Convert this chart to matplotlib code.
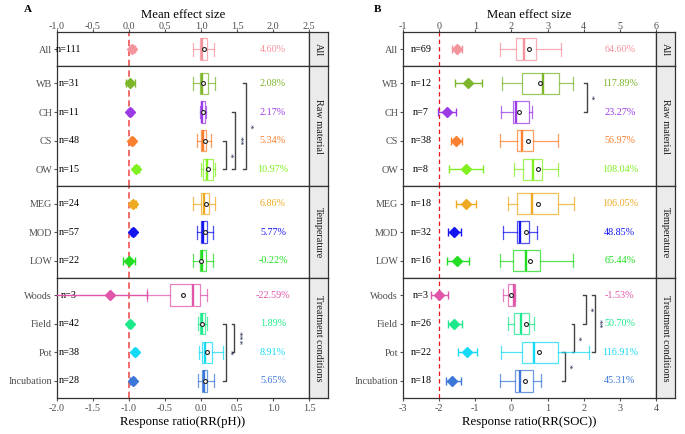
import numpy as np
import matplotlib.pyplot as plt

plt.rcParams['font.family'] = ['Liberation Serif', 'DejaVu Serif']

# ---- data ----
categories = ["All", "WB", "CH", "CS", "OW", "MEG", "MOD", "LOW",
              "Woods", "Field", "Pot", "Incubation"]
facet_of = [0, 1, 1, 1, 1, 2, 2, 2, 3, 3, 3, 3]
facets = ["All", "Raw material", "Temperature", "Treatment conditions"]
colors = ["#F5939C", "#7DB52B", "#9A3BE6", "#FA7F2E", "#80F020", "#EEAA22",
          "#1414F0", "#22DD22", "#E055AA", "#1DE98B", "#14DAF5", "#3D78D8"]

# panel A: RR(pH)
ph_n = [111, 31, 11, 48, 15, 24, 57, 22, 3, 42, 38, 28]
ph_pct = ["4.60%", "2.08%", "2.17%", "5.34%", "10.97%", "6.86%", "5.77%",
          "-0.22%", "-22.59%", "1.89%", "8.91%", "5.65%"]
ph_q1 = [-0.014, -0.014, 0.0, 0.0, 0.024, 0.0, 0.0, -0.014, -0.431, -0.014, 0.018, 0.018]
ph_med = [0.01, 0.014, 0.02, 0.03, 0.09, 0.045, 0.032, 0.018, -0.115, 0.009, 0.056, 0.042]
ph_q3 = [0.087, 0.097, 0.055, 0.069, 0.16, 0.107, 0.079, 0.069, -0.014, 0.056, 0.148, 0.088]
ph_lo = [-0.107, -0.107, -0.01, -0.051, 0.0, -0.107, -0.051, -0.115, -0.754, -0.037, -0.028, -0.037]
ph_hi = [0.18, 0.199, 0.065, 0.135, 0.2, 0.2, 0.171, 0.171, 0.088, 0.079, 0.3, 0.18]
ph_mean = [0.045, 0.021, 0.021, 0.052, 0.104, 0.066, 0.056, -0.002, -0.256, 0.019, 0.085, 0.055]
ph_eff = [0.042, 0.02, 0.016, 0.045, 0.098, 0.062, 0.052, -0.006, -0.26, 0.016, 0.078, 0.05]
ph_ci_lo = [0.01, -0.04, -0.015, 0.02, 0.065, 0.025, 0.025, -0.08, -1.3, -0.01, 0.05, 0.02]
ph_ci_hi = [0.08, 0.083, 0.045, 0.075, 0.135, 0.1, 0.08, 0.08, 0.25, 0.045, 0.11, 0.08]

# panel B: RR(SOC)
soc_n = [69, 12, 7, 38, 8, 18, 32, 16, 3, 26, 22, 18]
soc_pct = ["64.60%", "117.89%", "23.27%", "56.97%", "108.04%", "106.05%", "48.85%",
           "65.44%", "-1.53%", "50.70%", "116.91%", "45.31%"]
soc_q1 = [0.127, 0.284, 0.052, 0.146, 0.329, 0.163, 0.146, 0.052, -0.086, 0.08, 0.301, 0.099]
soc_med = [0.357, 0.865, 0.127, 0.284, 0.589, 0.561, 0.237, 0.395, 0.071, 0.265, 0.625, 0.237]
soc_q3 = [0.68, 1.325, 0.495, 0.606, 0.838, 1.297, 0.495, 0.791, 0.099, 0.486, 1.297, 0.589]
soc_lo = [-0.316, -0.25, -0.294, -0.316, 0.071, -0.103, -0.242, -0.316, -0.242, -0.103, -0.294, -0.316]
soc_hi = [1.364, 1.715, 0.563, 1.297, 1.297, 1.74, 0.70, 1.715, 0.11, 0.633, 2.147, 0.818]
soc_mean = [0.498, 0.779, 0.209, 0.451, 0.733, 0.723, 0.398, 0.504, -0.015, 0.41, 0.774, 0.374]
soc_eff = [0.503, 0.79, 0.209, 0.457, 0.734, 0.734, 0.40, 0.503, -0.004, 0.41, 0.78, 0.365]
soc_ci_lo = [0.36, 0.44, -0.02, 0.32, 0.27, 0.46, 0.25, 0.21, -0.23, 0.25, 0.53, 0.19]
soc_ci_hi = [0.64, 1.18, 0.47, 0.64, 1.22, 1.02, 0.6, 0.83, 0.25, 0.62, 1.04, 0.6]

# significance brackets: (from, to, x, label)
ph_sig = [("WB", "OW", 0.621, "*"), ("CH", "OW", 0.472, "**"), ("CS", "OW", 0.343, "*"),
          ("Field", "Pot", 0.462, "***"), ("Field", "Incubation", 0.343, "*")]
soc_sig = [("WB", "CH", 2.083, "*"), ("Woods", "Field", 2.055, "*"), ("Woods", "Pot", 2.31, "**"),
           ("Field", "Pot", 1.74, "*"), ("Pot", "Incubation", 1.483, "*")]

W, H = 685, 434
fig = plt.figure(figsize=(W / 100, H / 100), dpi=100)

TOP, BOT = 32, 398
units = [sum(1 for f in facet_of if f == k) - 1 + 1.2 for k in range(4)]
upx = (BOT - TOP) / sum(units)
FRAME = "#333333"
FS = 7.3


def draw_panel(left, right, xlim, offset, bticks, tticks, xlabel, n_x, pct_x, tick_len, star_dx,
               q1, med, q3, lo, hi, mean, eff, ci_lo, ci_hi, ns, pcts, sig, dash):
    y = TOP
    axes = []
    for k in range(4):
        h = units[k] * upx
        idx = [i for i, f in enumerate(facet_of) if f == k]
        names = [categories[i] for i in idx]
        ax = fig.add_axes([left / W, 1 - (y + h) / H, (right - left) / W, h / H])
        sax = fig.add_axes([right / W, 1 - (y + h) / H, 19 / W, h / H])
        y += h
        axes.append(ax)
        ax.set_xlim(*xlim)
        ax.set_ylim(len(idx) - 1 + 0.6, -0.6)
        for s in ax.spines.values():
            s.set_color(FRAME)
            s.set_linewidth(0.9)
        ax.set_yticks(range(len(idx)))
        ax.set_yticklabels(names)
        ax.tick_params(axis='y', length=2, color='#555555', labelsize=FS,
                       labelcolor='#4D4D4D', pad=1.5)
        ax.tick_params(axis='x', bottom=False, labelbottom=False)
        ax.axvline(-offset, color=dash[0], lw=dash[1], dashes=dash[2], zorder=1)

        for j, i in enumerate(idx):
            c = colors[i]
            st = [dict(med=med[i], q1=q1[i], q3=q3[i], whislo=lo[i], whishi=hi[i],
                       mean=mean[i], fliers=[])]
            ax.bxp(st, positions=[j], widths=0.75, capwidths=0.45, orientation='horizontal',
                   showmeans=True, patch_artist=True,
                   boxprops=dict(facecolor='white', edgecolor=c, alpha=0.75, lw=0.9),
                   whiskerprops=dict(color=c, alpha=0.75, lw=0.9),
                   capprops=dict(color=c, alpha=0.75, lw=0.9),
                   medianprops=dict(color=c, lw=1.7),
                   meanprops=dict(marker='o', markersize=2.8, markerfacecolor='white',
                                  markeredgecolor='#222222', markeredgewidth=0.8),
                   manage_ticks=False, zorder=3)
            e = eff[i] - offset
            ax.errorbar([e], [j], xerr=[[e - (ci_lo[i] - offset)], [(ci_hi[i] - offset) - e]],
                        fmt='D', color=c, markersize=5, capsize=3.2, elinewidth=1,
                        capthick=1, zorder=4)
            ax.text(n_x, j, f"n={ns[i]}", ha='center', va='center', fontsize=FS, color='black')
            ax.text(pct_x, j, pcts[i], ha='center', va='center', fontsize=FS, color=c)

        for a, b, x, lab in sig:
            if a in names:
                y1, y2 = names.index(a), names.index(b)
                ax.plot([x - tick_len, x, x, x - tick_len], [y1, y1, y2, y2],
                        color='#444444', lw=1, zorder=2)
                ax.text(x + star_dx, (y1 + y2) / 2, lab, rotation=270, ha='center',
                        va='center', fontsize=6.8, color='#1E2A4A')

        sax.set_facecolor('#EBEBEB')
        sax.set_xticks([])
        sax.set_yticks([])
        for s in sax.spines.values():
            s.set_color(FRAME)
            s.set_linewidth(0.9)
        sax.text(0.5, 0.5, facets[k], rotation=270, ha='center', va='center',
                 fontsize=FS, color='#1A1A1A', transform=sax.transAxes)

    top = axes[0].secondary_xaxis('top', functions=(lambda x: x + offset, lambda x: x - offset))
    top.set_xticks(tticks[0])
    top.set_xticklabels(tticks[1])
    top.tick_params(length=2, color='#555555', labelsize=7.3, labelcolor='#4D4D4D', pad=-1.5)
    top.spines['top'].set_visible(False)
    top.set_xlabel("Mean effect size", fontsize=9.2, labelpad=3)

    bax = axes[-1]
    bax.tick_params(axis='x', bottom=True, labelbottom=True, length=2.5, color='#555555',
                    labelsize=7.3, labelcolor='#4D4D4D', pad=1.5)
    bax.set_xticks(bticks[0])
    bax.set_xticklabels(bticks[1])
    bax.set_xlabel(xlabel, fontsize=9.2, labelpad=2.5)


draw_panel(57, 309, (-2.0, 1.5), 1.0,
           ([-2.0, -1.5, -1.0, -0.5, 0.0, 0.5, 1.0, 1.5],
            ["-2.0", "-1.5", "-1.0", "-0.5", "0.0", "0.5", "1.0", "1.5"]),
           ([-1.0, -0.5, 0.0, 0.5, 1.0, 1.5, 2.0, 2.5],
            ["-1.0", "-0.5", "0.0", "0.5", "1.0", "1.5", "2.0", "2.5"]),
           "Response ratio(RR(pH))", -1.833, 1.0, 0.035, 0.047,
           ph_q1, ph_med, ph_q3, ph_lo, ph_hi, ph_mean, ph_eff, ph_ci_lo, ph_ci_hi,
           ph_n, ph_pct, ph_sig, ("#F0605F", 1.3, (3.5, 2)))

draw_panel(403, 656, (-3, 4), 2.0,
           ([-3, -2, -1, 0, 1, 2, 3, 4], ["-3", "-2", "-1", "0", "1", "2", "3", "4"]),
           ([-1, 0, 1, 2, 3, 4, 5, 6], ["-1", "0", "1", "2", "3", "4", "5", "6"]),
           "Response ratio(RR(SOC))", -2.5, 3.0, 0.07, 0.075,
           soc_q1, soc_med, soc_q3, soc_lo, soc_hi, soc_mean, soc_eff, soc_ci_lo, soc_ci_hi,
           soc_n, soc_pct, soc_sig, ("#E8161A", 0.9, (3.5, 2.5)))

fig.text(28 / W, 1 - 10 / H, "A", fontsize=8, fontweight='bold', ha='center', va='center')
fig.text(377 / W, 1 - 10 / H, "B", fontsize=8, fontweight='bold', ha='center', va='center')

fig.savefig("out.png", dpi=100)
